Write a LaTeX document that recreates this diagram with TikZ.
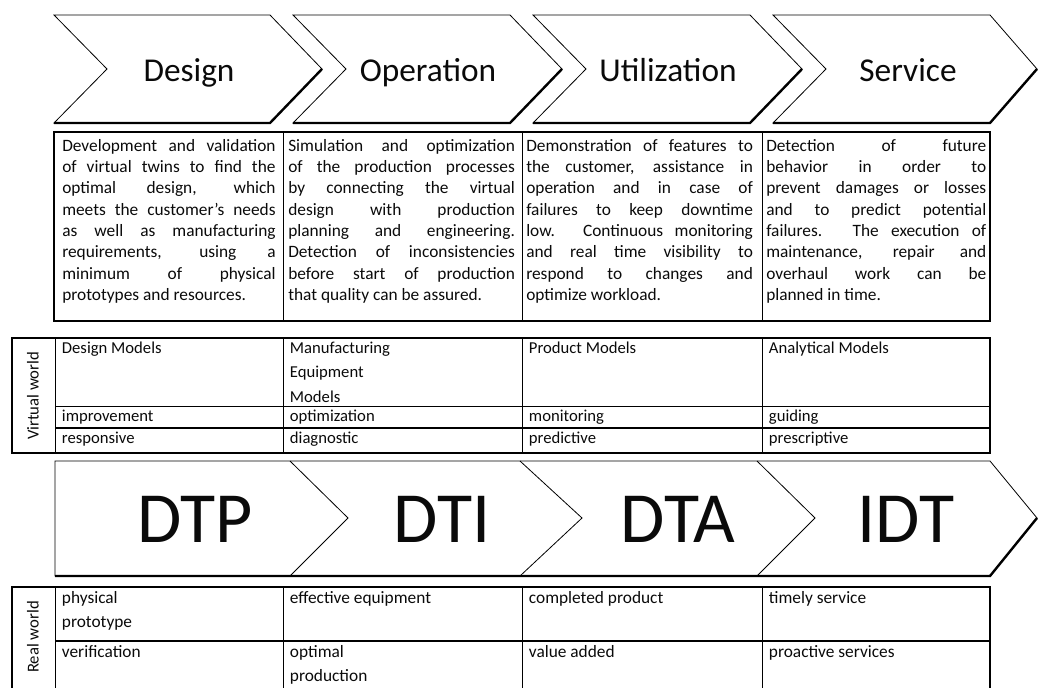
\documentclass[tikz,border=0pt]{standalone}
\usepackage{fontspec}
\setmainfont{Carlito}
\definecolor{frameInk}{HTML}{000000}
\definecolor{labelInk}{HTML}{0A0A0A}

\begin{document}
\begin{tikzpicture}[
    x=0.75pt, y=-0.75pt,
    chevron/.style={draw=frameInk, line width=0.6pt, line join=miter},
    chevshadow/.style={draw=frameInk, line width=1.8pt},
    tableframe/.style={draw=frameInk, line width=1.4pt},
    tablerule/.style={draw=frameInk, line width=0.7pt},
    phasetext/.style={anchor=base, inner sep=0pt, text=labelInk,
        font=\fontsize{25}{30}\selectfont},
    leveltext/.style={anchor=base, inner sep=0pt, text=labelInk,
        font=\fontsize{54}{60}\selectfont},
    desctext/.style={anchor=north west, inner sep=0pt, align=justify,
        text=labelInk, font=\fontsize{13}{16}\selectfont},
    celltext/.style={anchor=north west, inner xsep=5pt, inner ysep=2.5pt,
        align=left, text=labelInk, font=\fontsize{12.5}{18.5}\selectfont},
    realtext/.style={celltext, inner ysep=3pt, font=\fontsize{13}{18.5}\selectfont},
    sidetext/.style={rotate=90, inner sep=0pt, text=labelInk,
        font=\fontsize{12.5}{14}\selectfont},
]
\useasboundingbox (0,0) rectangle (1038,688);

% ============================================================
%  LIFE-CYCLE PHASES
% ============================================================
\draw[chevron] (54,15) -- (270,15) -- (322,69) -- (270,123) -- (54,123) -- (107,69) -- cycle;
\draw[chevshadow] (322,69) -- (270,123) -- (54,123);
\draw[chevron] (293,15) -- (510,15) -- (562,69) -- (510,123) -- (293,123) -- (346,69) -- cycle;
\draw[chevshadow] (562,69) -- (510,123) -- (293,123);
\draw[chevron] (533,15) -- (750,15) -- (802,69) -- (750,123) -- (533,123) -- (586,69) -- cycle;
\draw[chevshadow] (802,69) -- (750,123) -- (533,123);
\draw[chevron] (773,15) -- (990,15) -- (1037,69) -- (990,123) -- (773,123) -- (826,69) -- cycle;
\draw[chevshadow] (1037,69) -- (990,123) -- (773,123);

\node[phasetext] (phDesign) at (189,82) {Design};
\node[phasetext] (phOperation) at (428,82) {Operation};
\node[phasetext] (phUtil) at (668,82) {Utilization};
\node[phasetext] (phService) at (908,82) {Service};

% ============================================================
%  DESCRIPTIONS
% ============================================================
\draw[tableframe] (54,132) rectangle (990,321);
\draw[tablerule] (283,132) -- (283,321);
\draw[tablerule] (522,132) -- (522,321);
\draw[tablerule] (762,132) -- (762,321);

\node[desctext, text width=160pt] (descDesign) at (62,139)
    {Development and validation\linebreak of virtual twins to find the\linebreak
     optimal design, which\linebreak meets the customer’s needs\linebreak
     as well as manufacturing\linebreak requirements, using a\linebreak
     minimum of physical\linebreak prototypes and resources.};
\node[desctext, text width=170pt] (descOperation) at (288,139)
    {Simulation and optimization\linebreak of the production processes\linebreak
     by connecting the virtual\linebreak design with production\linebreak
     planning and engineering.\linebreak Detection of inconsistencies\linebreak
     before start of production\linebreak that quality can be assured.};
\node[desctext, text width=170pt] (descUtil) at (526,139)
    {Demonstration of features to\linebreak the customer, assistance in\linebreak
     operation and in case of\linebreak failures to keep downtime\linebreak
     low. Continuous monitoring\linebreak and real time visibility to\linebreak
     respond to changes and\linebreak optimize workload.};
\node[desctext, text width=165pt] (descService) at (766,139)
    {Detection of future\linebreak behavior in order to\linebreak
     prevent damages or losses\linebreak and to predict potential\linebreak
     failures. The execution of\linebreak maintenance, repair and\linebreak
     overhaul work can be\linebreak planned in time.};

% ============================================================
%  VIRTUAL WORLD
% ============================================================
\draw[tableframe] (12,338) rectangle (990,453);
\draw[tablerule] (55,338) -- (55,453);
\draw[tablerule] (283,338) -- (283,453);
\draw[tablerule] (522,338) -- (522,453);
\draw[tablerule] (762,338) -- (762,453);
\draw[tablerule] (55,406) -- (990,406);
\draw[tableframe] (55,428) -- (990,428);

\node[sidetext] (virtLabel) at (33,396) {Virtual world};

\node[celltext] (vmDesign) at (55,338) {Design Models};
\node[celltext] (vmOperation) at (283,338) {Manufacturing\\Equipment\\Models};
\node[celltext] (vmUtil) at (522,338) {Product Models};
\node[celltext] (vmService) at (762,338) {Analytical Models};

\node[celltext] (vgDesign) at (55,406) {improvement};
\node[celltext] (vgOperation) at (283,406) {optimization};
\node[celltext] (vgUtil) at (522,406) {monitoring};
\node[celltext] (vgService) at (762,406) {guiding};

\node[celltext] (vaDesign) at (55,428) {responsive};
\node[celltext] (vaOperation) at (283,428) {diagnostic};
\node[celltext] (vaUtil) at (522,428) {predictive};
\node[celltext] (vaService) at (762,428) {prescriptive};

% ============================================================
%  TWIN LEVELS
% ============================================================
\draw[chevron] (55,461) -- (990,461) -- (1037,518) -- (990,576) -- (55,576) -- cycle;
\draw[chevshadow] (1037,518) -- (990,576) -- (55,576);
\draw[chevron] (290,461) -- (348,518) -- (290,576);
\draw[chevron] (520,461) -- (582,518) -- (520,576);
\draw[chevron] (757,461) -- (815,518) -- (757,576);

\node[leveltext] (lvDTP) at (195,542) {DTP};
\node[leveltext] (lvDTI) at (442,542) {DTI};
\node[leveltext] (lvDTA) at (678,542) {DTA};
\node[leveltext] (lvIDT) at (906,542) {IDT};

% ============================================================
%  REAL WORLD
% ============================================================
\draw[tableframe] (12,587) rectangle (990,692);
\draw[tablerule] (55,587) -- (55,692);
\draw[tablerule] (283,587) -- (283,692);
\draw[tablerule] (522,587) -- (522,692);
\draw[tablerule] (762,587) -- (762,692);
\draw[tableframe] (55,641) -- (990,641);

\node[sidetext] (realLabel) at (33,637) {Real world};

\node[realtext] (rpDesign) at (55,587) {physical\\prototype};
\node[realtext] (rpOperation) at (283,587) {effective equipment};
\node[realtext] (rpUtil) at (522,587) {completed product};
\node[realtext] (rpService) at (762,587) {timely service};

\node[realtext] (rvDesign) at (55,641) {verification};
\node[realtext] (rvOperation) at (283,641) {optimal\\production};
\node[realtext] (rvUtil) at (522,641) {value added};
\node[realtext] (rvService) at (762,641) {proactive services};

\end{tikzpicture}
\end{document}
